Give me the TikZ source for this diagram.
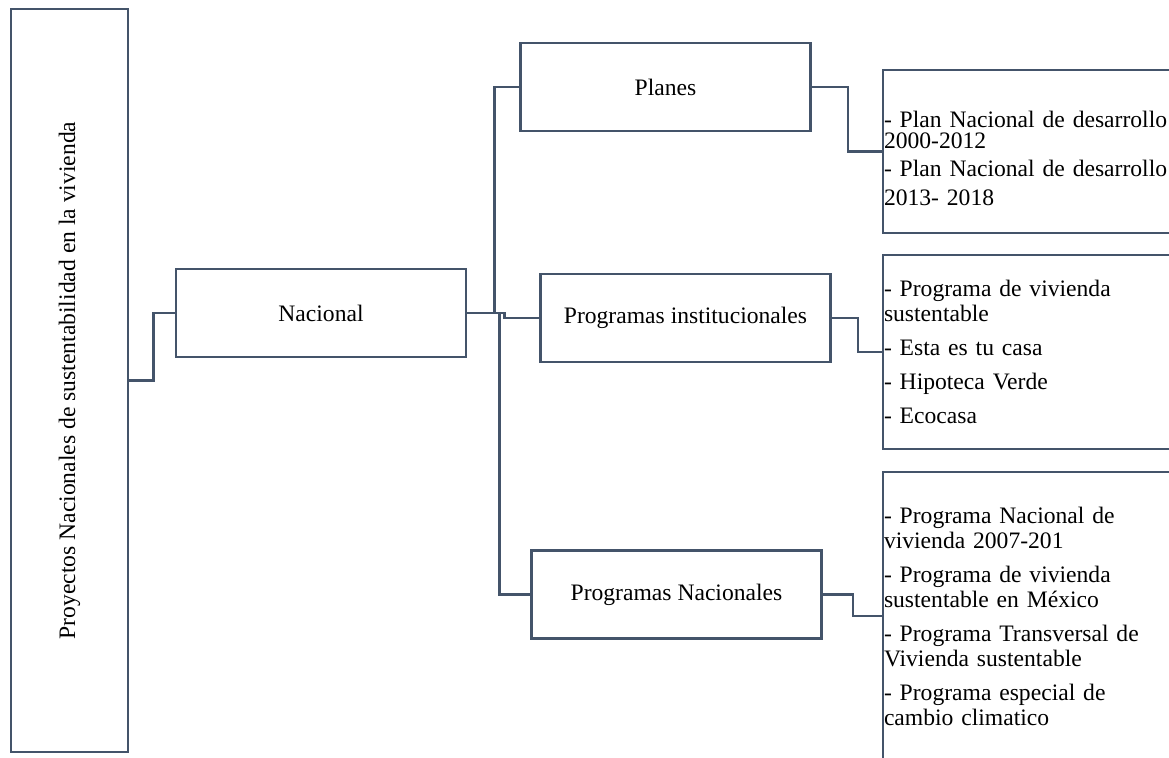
\documentclass[tikz,border=0pt]{standalone}
\usepackage{fontspec}
\setmainfont{Liberation Serif}
\usepackage{xcolor}
\definecolor{slate}{HTML}{44546A}

\tikzset{
  box/.style={draw=slate, line width=1.3pt, minimum width=145pt, minimum height=44pt,
    inner sep=0pt, font=\fontsize{11.8}{12.5}\selectfont},
  listbox/.style={draw=slate, line width=1.3pt, align=left, text width=150pt,
    inner xsep=0.5pt, inner ysep=0pt, font=\fontsize{11.8}{12.5}\selectfont},
  link/.style={draw=slate, line width=1.3pt}
}

\begin{document}
\begin{tikzpicture}[x=0.5pt,y=-0.5pt]
    \useasboundingbox (0,0) rectangle (1169,757);
    \clip (0,0) rectangle (1169,757);

    % Main box (vertical text)
    \node[box, rotate=90, minimum width=371.5pt, minimum height=58.5pt] (proy) at (69.5,380.5)
        {Proyectos Nacionales de sustentabilidad en la vivienda};

    % Level 1
    \node[box] (nac) at (321,313) {Nacional};

    % Level 2
    \node[box] (planes) at (665.5,87) {Planes};
    \node[box] (inst) at (685.5,318) {Programas institucionales};
    \node[box] (pnac) at (676.5,594.5) {Programas Nacionales};

    % Lists
    \node[listbox, minimum height=81.5pt] (planeslist) at (1034,151.5)
        {\rule{0pt}{15pt}- Plan Nacional de desarrollo\\[-2pt]2000-2012\\[1.5pt]- Plan Nacional de desarrollo\\[2pt]2013- 2018};
    \node[listbox, minimum height=97pt] (instlist) at (1034,352)
        {- Programa de vivienda\\sustentable\\[4.5pt]- Esta es tu casa\\[4.5pt]- Hipoteca Verde\\[4.5pt]- Ecocasa};
    \node[listbox, minimum height=144pt] (pnaclist) at (1034,616)
        {- Programa Nacional de\\vivienda 2007-201\\[4.5pt]- Programa de vivienda\\sustentable en México\\[4.5pt]- Programa Transversal de\\Vivienda sustentable\\[4.5pt]- Programa especial de\\cambio climatico};

    % Connectors
    \draw[link] (proy.south) -- ++(24,0) |- (nac.west);
    \draw[link] (nac.east) -- ++(27,0) |- (planes.west);
    \draw[link] (nac.east) -- ++(32,0) |- (pnac.west);
    \draw[link] (nac.east) -- ++(37,0) |- (inst.west);
    \draw[link] (planes.east) -- ++(36,0) |- (planeslist.west);
    \draw[link] (inst.east) -- ++(26,0) |- (instlist.west);
    \draw[link] (pnac.east) -- ++(30,0) |- (pnaclist.west);
\end{tikzpicture}
\end{document}
